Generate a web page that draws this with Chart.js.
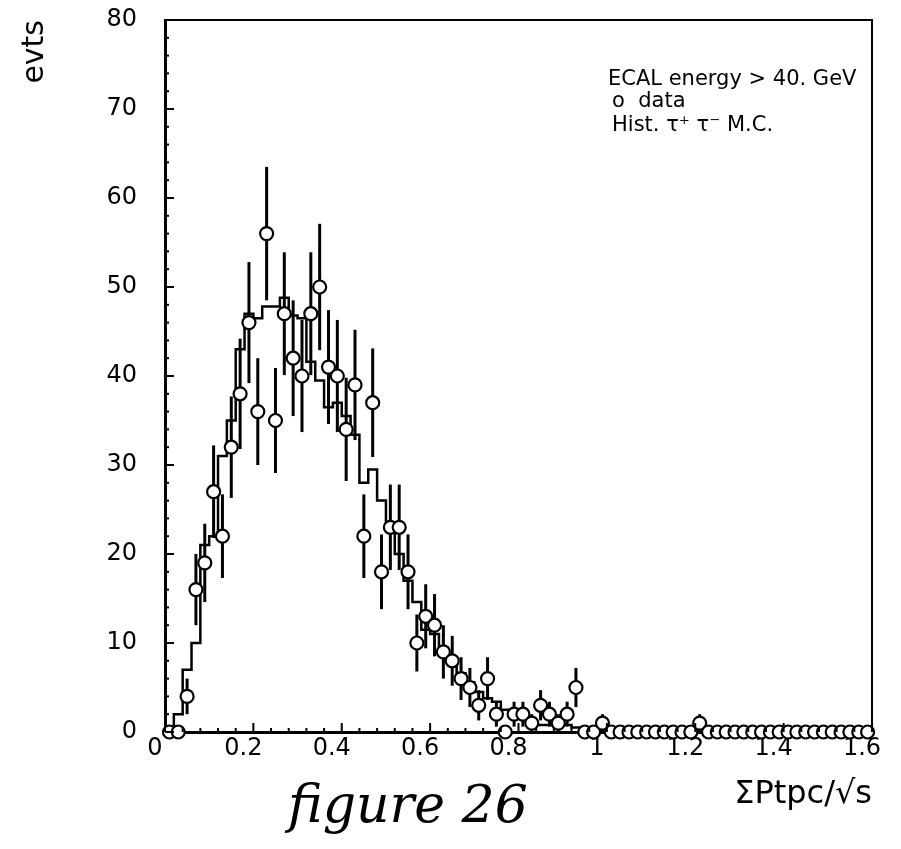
<!DOCTYPE html>
<html>
<head>
<meta charset="utf-8">
<script src="https://cdn.jsdelivr.net/npm/chart.js@4.4.1/dist/chart.umd.min.js"></script>
<style>
    html, body { margin: 0; padding: 0; background: #fff; }
    #wrap { width: 901px; height: 849px; }
</style>
</head>
<body>
<div id="wrap"><canvas id="chart" width="901" height="849"></canvas></div>
<script>
// Bin edges of the 0.02-wide histogram bins (0 .. 1.6).
var binEdges = [
    0.00, 0.02, 0.04, 0.06, 0.08, 0.10, 0.12, 0.14, 0.16, 0.18,
    0.20, 0.22, 0.24, 0.26, 0.28, 0.30, 0.32, 0.34, 0.36, 0.38,
    0.40, 0.42, 0.44, 0.46, 0.48, 0.50, 0.52, 0.54, 0.56, 0.58,
    0.60, 0.62, 0.64, 0.66, 0.68, 0.70, 0.72, 0.74, 0.76, 0.78,
    0.80, 0.82, 0.84, 0.86, 0.88, 0.90, 0.92, 0.94, 0.96, 0.98,
    1.00, 1.02, 1.04, 1.06, 1.08, 1.10, 1.12, 1.14, 1.16, 1.18,
    1.20, 1.22, 1.24, 1.26, 1.28, 1.30, 1.32, 1.34, 1.36, 1.38,
    1.40, 1.42, 1.44, 1.46, 1.48, 1.50, 1.52, 1.54, 1.56, 1.58,
    1.60
];

// Observed events per bin (open circles).
var dataCounts = [
    0, 0, 4, 16, 19, 27, 22, 32, 38, 46,
    36, 56, 35, 47, 42, 40, 47, 50, 41, 40,
    34, 39, 22, 37, 18, 23, 23, 18, 10, 13,
    12, 9, 8, 6, 5, 3, 6, 2, 0, 2,
    2, 1, 3, 2, 1, 2, 5, 0, 0, 1,
    0, 0, 0, 0, 0, 0, 0, 0, 0, 0,
    1, 0, 0, 0, 0, 0, 0, 0, 0, 0,
    0, 0, 0, 0, 0, 0, 0, 0, 0, 0
];

// Error bar half-lengths.
var dataErrors = [
    0, 0, 2.0, 4.0, 4.4, 5.2, 4.7, 5.7, 6.2, 6.8,
    6.0, 7.5, 5.9, 6.9, 6.5, 6.3, 6.9, 7.1, 6.4, 6.3,
    5.8, 6.2, 4.7, 6.1, 4.2, 4.8, 4.8, 4.2, 3.2, 3.6,
    3.5, 3.0, 2.8, 2.4, 2.2, 1.7, 2.4, 1.4, 0, 1.4,
    1.4, 1.0, 1.7, 1.4, 1.0, 1.4, 2.2, 0, 0, 1.0,
    0, 0, 0, 0, 0, 0, 0, 0, 0, 0,
    1.0, 0, 0, 0, 0, 0, 0, 0, 0, 0,
    0, 0, 0, 0, 0, 0, 0, 0, 0, 0
];

// tau+ tau- Monte Carlo histogram contents.
var mcCounts = [
    0, 2, 7, 10, 21, 22, 31, 35, 43, 47,
    46.5, 47.8, 47.8, 48.8, 46.8, 46.5, 41.6, 39.5, 36.5, 37,
    35.5, 33.4, 28, 29.5, 26, 23.5, 20, 17, 14.6, 11.5,
    11, 9.5, 7.7, 6.6, 5.6, 4.5, 3.8, 3.4, 2.5, 1.7,
    1.5, 1.2, 0.8, 0.8, 0.8, 0.8, 0.5, 0.3, 0, 0,
    0, 0, 0, 0, 0, 0, 0, 0, 0, 0,
    0, 0, 0, 0, 0, 0, 0, 0, 0, 0,
    0, 0, 0, 0, 0, 0, 0, 0, 0, 0
];

var legendLines = ["ECAL energy > 40. GeV", "o  data", "Hist. \u03c4\u207a \u03c4\u207b M.C."];

var FONT = "'DejaVu Sans', sans-serif";

// Build point lists for the two datasets.
var dataPoints = dataCounts.map(function (v, i) {
    return { x: (binEdges[i] + binEdges[i + 1]) / 2, y: v, err: dataErrors[i] };
});
var mcPoints = mcCounts.map(function (v, i) {
    return { x: binEdges[i], y: v };
});
mcPoints.push({ x: binEdges[binEdges.length - 1], y: mcCounts[mcCounts.length - 1] });

// Vertical error bars drawn under the circles.
var errorBars = {
    id: "errorBars",
    afterDatasetDraw: function (chart, args) {
        if (args.index !== 1) return;
        var ctx = chart.ctx;
        var xs = chart.scales.x, ys = chart.scales.y;
        ctx.save();
        ctx.strokeStyle = "#000";
        ctx.lineWidth = 3;
        dataPoints.forEach(function (p) {
            if (!p.err) return;
            var px = xs.getPixelForValue(p.x);
            ctx.beginPath();
            ctx.moveTo(px, ys.getPixelForValue(p.y - p.err));
            ctx.lineTo(px, ys.getPixelForValue(p.y + p.err));
            ctx.stroke();
        });
        ctx.restore();
    }
};

// Frame on top/right and inward tick marks on left/bottom.
var frameTicks = {
    id: "frameTicks",
    afterDraw: function (chart) {
        var ctx = chart.ctx, a = chart.chartArea;
        var xs = chart.scales.x, ys = chart.scales.y;
        ctx.save();
        ctx.strokeStyle = "#000";
        ctx.lineWidth = 2;
        ctx.beginPath();
        ctx.moveTo(a.left, a.top);
        ctx.lineTo(a.right, a.top);
        ctx.lineTo(a.right, a.bottom);
        ctx.stroke();

        var i, px, len;
        for (i = 0; i <= 40; i++) {
            len = i % 5 === 0 ? 9 : 4;
            px = ys.getPixelForValue(i * 2);
            ctx.beginPath();
            ctx.moveTo(a.left, px);
            ctx.lineTo(a.left + len, px);
            ctx.stroke();
        }
        for (i = 0; i <= 40; i++) {
            len = i % 5 === 0 ? 9 : 4;
            px = xs.getPixelForValue(i * 0.04);
            ctx.beginPath();
            ctx.moveTo(px, a.bottom);
            ctx.lineTo(px, a.bottom - len);
            ctx.stroke();
        }

        // Legend text in the upper right.
        ctx.fillStyle = "#000";
        ctx.textAlign = "left";
        ctx.textBaseline = "alphabetic";
        ctx.font = "21px " + FONT;
        ctx.fillText(legendLines[0], 608, 85);
        ctx.fillText(legendLines[1], 612, 107);
        ctx.fillText(legendLines[2], 612, 131);

        // Handwritten caption under the plot.
        ctx.font = "italic 52px 'DejaVu Serif', serif";
        ctx.fillText("figure 26", 288, 822);
        ctx.restore();
    }
};

new Chart(document.getElementById("chart"), {
    data: {
        datasets: [
            {
                type: "scatter",
                label: "data",
                data: dataPoints,
                pointRadius: 6.5,
                pointBorderWidth: 2.2,
                pointBackgroundColor: "#fff",
                pointBorderColor: "#000",
                clip: false
            },
            {
                type: "line",
                label: "MC",
                data: mcPoints,
                stepped: true,
                borderColor: "#000",
                borderWidth: 2.5,
                pointRadius: 0,
                fill: false
            }
        ]
    },
    options: {
        responsive: false,
        animation: false,
        devicePixelRatio: 1,
        layout: { padding: { top: 20, right: 29, left: 0, bottom: 0 } },
        plugins: { legend: { display: false }, tooltip: { enabled: false } },
        scales: {
            x: {
                type: "linear",
                min: 0,
                max: 1.6,
                afterFit: function (scale) { scale.height = 117; },
                grid: { display: false, drawTicks: false },
                border: { display: true, color: "#000", width: 3 },
                ticks: {
                    stepSize: 0.2,
                    padding: 2,
                    labelOffset: -10,
                    color: "#000",
                    font: { family: FONT, size: 24 },
                    callback: function (v) { return String(Math.round(v * 10) / 10); }
                },
                title: {
                    display: true,
                    text: "\u03a3Ptpc/\u221as",
                    align: "end",
                    color: "#000",
                    font: { family: FONT, size: 32 },
                    padding: { top: 0, bottom: 35 }
                }
            },
            y: {
                min: 0,
                max: 80,
                afterFit: function (scale) { scale.width = 165; },
                // invisible outward tick marks give the label gap without extra top padding
                grid: {
                    display: true,
                    drawOnChartArea: false,
                    drawTicks: true,
                    tickLength: 24,
                    color: "rgba(0,0,0,0)",
                    tickColor: "rgba(0,0,0,0)"
                },
                border: { display: true, color: "#000", width: 3 },
                ticks: {
                    stepSize: 10,
                    padding: 4,
                    color: "#000",
                    font: { family: FONT, size: 24 }
                },
                title: {
                    display: true,
                    text: "evts",
                    align: "end",
                    color: "#000",
                    font: { family: FONT, size: 30 },
                    padding: { top: 17, bottom: 0 }
                }
            }
        }
    },
    plugins: [errorBars, frameTicks]
});
</script>
</body>
</html>
